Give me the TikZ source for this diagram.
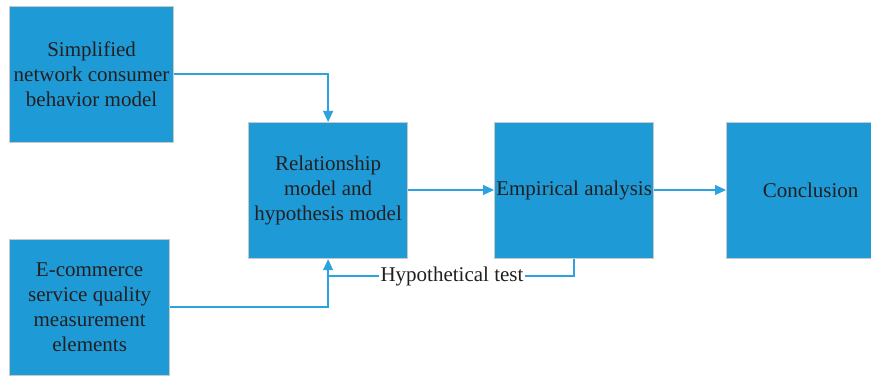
\documentclass[tikz,border=0pt]{standalone}
\usepackage{fontspec}
\setmainfont{Liberation Serif}
\usetikzlibrary{arrows.meta,positioning}
\definecolor{boxblue}{HTML}{1E9BD7}
\definecolor{boxedge}{HTML}{C8C8C8}
\definecolor{linkblue}{HTML}{2AA3DE}
\definecolor{ink}{HTML}{231F20}
\tikzset{
  labelfont/.style={font=\fontsize{21}{25}\selectfont},
  stage/.style={draw=boxedge, line width=1.2pt, fill=boxblue, text=ink,
    align=center, inner sep=0pt, labelfont,
    minimum height=136pt, anchor=north west},
  link/.style={draw=linkblue, line width=1.3pt,
    -{Triangle[length=11pt,width=10pt]}},
  plainlink/.style={draw=linkblue, line width=1.3pt},
}
\begin{document}
\begin{tikzpicture}[x=1pt,y=-1pt]
  \useasboundingbox (0,0) rectangle (871,377);
  \clip (0,0) rectangle (871,377);
  \node[stage, minimum width=164pt] (simp) at (9,6)
    {Simplified\\network consumer\\behavior model};
  \node[stage, minimum width=160pt] (ecom) at (9,239)
    {E-commerce\\service quality\\measurement\\elements};
  \node[stage, minimum width=159pt] (rel) at (248,122)
    {Relationship\\model and\\hypothesis model};
  \node[stage, minimum width=159pt] (emp) at (494,122)
    {Empirical analysis};
  \node[stage, minimum width=160pt, text width=168pt] (conc) at (726,122)
    {Conclusion};
  \coordinate (hyp) at (574,276);
  \node[fill=white, text=ink, inner sep=1pt, labelfont]
    (hyplabel) at (452,276) {Hypothetical test};

  \draw[link] (simp.east |- 0,74) -| (rel.north);
  \draw[link] (ecom.east |- 0,307) -| (rel.south);
  \draw[plainlink] (emp.south -| hyp) -- (hyp) -- (hyplabel.east);
  \draw[plainlink] (hyplabel.west) -- (rel.south |- hyp);
  \draw[link] (rel.east |- 0,190) -- (emp.west |- 0,190);
  \draw[link] (emp.east |- 0,190) -- (conc.west |- 0,190);
\end{tikzpicture}
\end{document}
